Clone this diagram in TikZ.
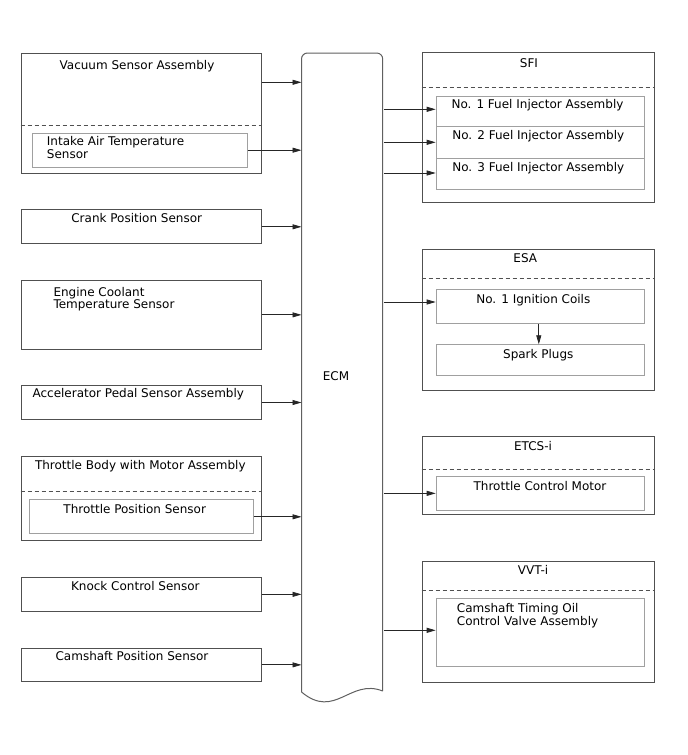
\documentclass[tikz,border=0pt]{standalone}
\usepackage{fontspec}
\setmainfont{DejaVu Sans}
\usetikzlibrary{arrows.meta}
\definecolor{outerc}{HTML}{505050}
\definecolor{innerc}{HTML}{A0A0A0}
\definecolor{ecmc}{HTML}{606060}
\tikzset{
  outerbox/.style={draw=outerc, line width=1pt, rectangle, anchor=north west, inner sep=0pt},
  innerbox/.style={draw=innerc, line width=1pt, rectangle, anchor=north west, inner sep=0pt},
  sep/.style={draw=outerc, line width=0.9pt, dash pattern=on 4pt off 3pt},
  txt/.style={anchor=base, inner sep=0pt, font=\fontsize{12}{12.6}\selectfont},
  ltxt/.style={anchor=base west, inner sep=0pt, align=left, font=\fontsize{12}{12.6}\selectfont},
  conn/.style={draw=black!85, line width=0.8pt, -{Triangle[length=9pt,width=5pt]}},
}
\begin{document}
\begin{tikzpicture}[x=1pt,y=-1pt]
\useasboundingbox (0,0) rectangle (688,755);
% ---------- ECM ----------
\node[draw=none, rectangle, anchor=north west, minimum width=82pt, minimum height=639pt, inner sep=0pt] (ecm) at (301.5,53) {};
\draw[draw=ecmc, line width=1pt, rounded corners=6pt] (301.5,692) -- (301.5,53) -- (382.7,53) -- (382.7,691);
\draw[draw=ecmc, line width=1pt] (301.5,692) .. controls (335,720) and (350,678) .. (382.7,691);
\node[txt] (ecmt) at (336,380) {ECM};
% ---------- left side ----------
\node[outerbox, minimum width=240pt, minimum height=120pt] (vac) at (20.7,52.7) {};
\draw[sep] (vac.west |- 0,125) -- (vac.east |- 0,125);
\node[txt] (vact) at (137,69) {Vacuum Sensor Assembly};
\node[innerbox, minimum width=215pt, minimum height=34pt] (iat) at (31.7,132.7) {};
\node[ltxt] (iatt) at (46.7,158.3) {Intake Air Temperature\\Sensor};

\node[outerbox, minimum width=240pt, minimum height=34pt] (crank) at (20.7,209.3) {};
\node[txt] (crankt) at (136.7,222.7) {Crank Position Sensor};

\node[outerbox, minimum width=240pt, minimum height=68.7pt] (ect) at (20.7,280) {};
\node[ltxt] (ectt) at (53.3,308.6) {Engine Coolant\\Temperature Sensor};

\node[outerbox, minimum width=240pt, minimum height=34pt] (acc) at (20.7,385) {};
\node[txt] (acct) at (138.3,397.3) {Accelerator Pedal Sensor Assembly};

\node[outerbox, minimum width=240pt, minimum height=84.3pt] (tb) at (20.7,455.7) {};
\draw[sep] (tb.west |- 0,491) -- (tb.east |- 0,491);
\node[txt] (tbt) at (140.3,469) {Throttle Body with Motor Assembly};
\node[innerbox, minimum width=223.4pt, minimum height=34pt] (tps) at (29.3,499.3) {};
\node[txt] (tpst) at (134.7,513.3) {Throttle Position Sensor};

\node[outerbox, minimum width=240pt, minimum height=34.3pt] (knock) at (20.7,576.7) {};
\node[txt] (knockt) at (135.3,590) {Knock Control Sensor};

\node[outerbox, minimum width=240pt, minimum height=33.3pt] (cam) at (20.7,647.7) {};
\node[txt] (camt) at (132,660.7) {Camshaft Position Sensor};

% left arrows
\draw[conn] ([yshift=-29.6pt]vac.north east) -- ([yshift=-29.6pt]vac.north east -| ecm.west);
\draw[conn] (iat.east) -- (iat.east -| ecm.west);
\draw[conn] (crank.east) -- (crank.east -| ecm.west);
\draw[conn] (ect.east) -- (ect.east -| ecm.west);
\draw[conn] (acc.east) -- (acc.east -| ecm.west);
\draw[conn] (tps.east) -- (tps.east -| ecm.west);
\draw[conn] (knock.east) -- (knock.east -| ecm.west);
\draw[conn] (cam.east) -- (cam.east -| ecm.west);

% ---------- right side ----------
% SFI
\node[outerbox, minimum width=232.6pt, minimum height=150pt] (sfi) at (421.7,52.3) {};
\draw[sep] (sfi.west |- 0,87.3) -- (sfi.east |- 0,87.3);
\node[txt] (sfit) at (529,67.3) {SFI};
\node[innerbox, minimum width=208.6pt, minimum height=30.3pt] (inj1) at (435.7,95.7) {};
\node[innerbox, minimum width=208.6pt, minimum height=31.7pt] (inj2) at (435.7,126) {};
\node[innerbox, minimum width=208.6pt, minimum height=31.3pt] (inj3) at (435.7,157.7) {};
\node[txt] (inj1t) at (537.5,108.3) {No. 1 Fuel Injector Assembly};
\node[txt] (inj2t) at (538.3,139.5) {No. 2 Fuel Injector Assembly};
\node[txt] (inj3t) at (538.3,171.7) {No. 3 Fuel Injector Assembly};
\draw[conn] ([yshift=-13.6pt]inj1.north west -| ecm.east) -- ([yshift=-13.6pt]inj1.north west);
\draw[conn] ([yshift=-16.3pt]inj2.north west -| ecm.east) -- ([yshift=-16.3pt]inj2.north west);
\draw[conn] ([yshift=-15.3pt]inj3.north west -| ecm.east) -- ([yshift=-15.3pt]inj3.north west);

% ESA
\node[outerbox, minimum width=232.6pt, minimum height=140.7pt] (esa) at (421.7,249.3) {};
\draw[sep] (esa.west |- 0,278.5) -- (esa.east |- 0,278.5);
\node[txt] (esat) at (525.3,262.3) {ESA};
\node[innerbox, minimum width=208.6pt, minimum height=34pt] (ign) at (435.7,289) {};
\node[txt] (ignt) at (533.3,303.3) {No. 1 Ignition Coils};
\node[innerbox, minimum width=208.6pt, minimum height=31pt] (spk) at (435.7,344.3) {};
\node[txt] (spkt) at (538.3,358.3) {Spark Plugs};
\draw[conn] ([yshift=-13pt]ign.north west -| ecm.east) -- ([yshift=-13pt]ign.north west);
\draw[conn] ([xshift=-1.7pt]ign.south) -- ([xshift=-1.7pt]spk.north);

% ETCS-i
\node[outerbox, minimum width=232.6pt, minimum height=78.6pt] (etcs) at (421.7,435.7) {};
\draw[sep] (etcs.west |- 0,469.3) -- (etcs.east |- 0,469.3);
\node[txt] (etcst) at (533,450) {ETCS-i};
\node[innerbox, minimum width=208.6pt, minimum height=34.3pt] (tcm) at (435.7,475.7) {};
\node[txt] (tcmt) at (540,490) {Throttle Control Motor};
\draw[conn] (tcm.west -| ecm.east) -- (tcm.west);

% VVT-i
\node[outerbox, minimum width=232.6pt, minimum height=120.7pt] (vvt) at (421.7,561) {};
\draw[sep] (vvt.west |- 0,590) -- (vvt.east |- 0,590);
\node[txt] (vvtt) at (533,574) {VVT-i};
\node[innerbox, minimum width=208.6pt, minimum height=68.3pt] (ocv) at (435.7,597.7) {};
\node[ltxt] (ocvt) at (456.7,625.3) {Camshaft Timing Oil\\Control Valve Assembly};
\draw[conn] ([yshift=-32.6pt]ocv.north west -| ecm.east) -- ([yshift=-32.6pt]ocv.north west);
\end{tikzpicture}
\end{document}
